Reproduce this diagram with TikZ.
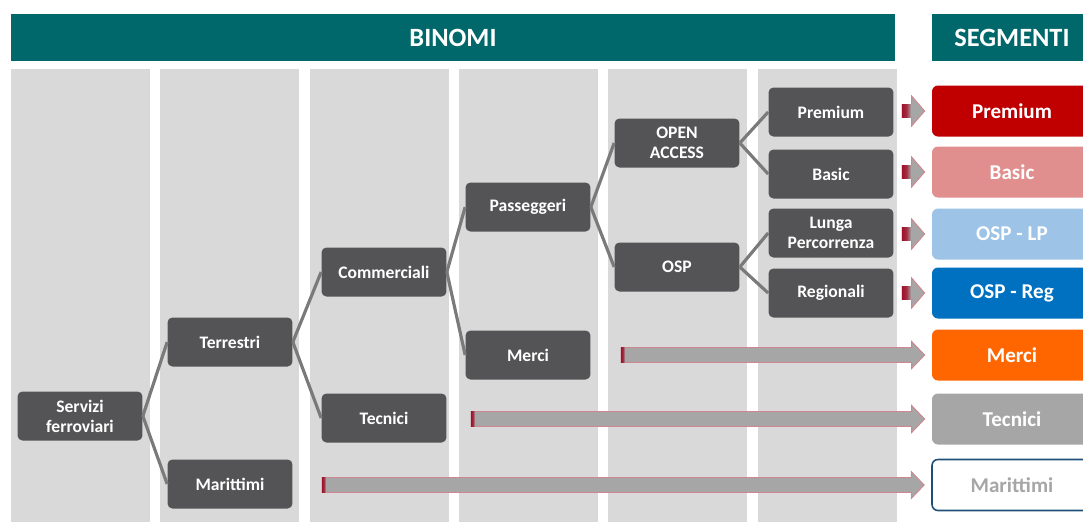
\documentclass[tikz,border=0pt]{standalone}
\usepackage{fontspec}
\setmainfont{Carlito}
\usetikzlibrary{calc}
\definecolor{teal}{HTML}{00686A}
\definecolor{colgray}{HTML}{D9D9D9}
\definecolor{boxgray}{HTML}{545456}
\definecolor{linkgray}{HTML}{7A7A7A}
\definecolor{arrowfill}{HTML}{A6A6A6}
\definecolor{arrowedge}{HTML}{D0868E}
\definecolor{arrowstub}{HTML}{A0102A}
\definecolor{segpremium}{HTML}{C00000}
\definecolor{segbasic}{HTML}{E08E8E}
\definecolor{seglp}{HTML}{9DC3E6}
\definecolor{segreg}{HTML}{0070C0}
\definecolor{segmerci}{HTML}{FF6600}
\definecolor{segtecnici}{HTML}{A6A6A6}
\definecolor{segborder}{HTML}{1F4E79}
\tikzset{
	binomio/.style={
			fill=boxgray, rounded corners=2.8pt, text=white, align=center,
			minimum width=2.5cm, minimum height=0.98cm, inner sep=1pt,
			font=\bfseries\fontsize{10}{11.5}\selectfont
		},
	segmento/.style={
			fill=#1, rounded corners=3.4pt, text=white,
			minimum width=3.2cm, minimum height=1.02cm,
			font=\bfseries\fontsize{12}{14}\selectfont
		},
	link/.style={draw=linkgray, line width=1.8pt},
	header/.style={text=white, font=\bfseries\fontsize{15}{18}\selectfont}
}
\newcommand{\blockarrow}[5][4]{% [stub width] start, tip, half shaft, half head
	\filldraw[fill=arrowfill, draw=arrowedge, line width=0.5pt]
	($(#2)+(0,#4)$) -- ($(#3)+(-13,#4)$) -- ($(#3)+(-13,#5)$) -- (#3)
	-- ($(#3)+(-13,-#5)$) -- ($(#3)+(-13,-#4)$) -- ($(#2)+(0,-#4)$) -- cycle;
	\shade[left color=arrowstub, right color=arrowfill, middle color=arrowstub!80!arrowfill]
	($(#2)+(0,#4)$) rectangle ($(#2)+(#1,-#4)$);
}

\begin{document}
\begin{tikzpicture}[x=0.02cm, y=-0.02cm]
        \useasboundingbox (0,0) rectangle (1083,522);
        % headers
        \fill[teal] (11,14) rectangle (895,61);
        \node[header] (binomi) at (453,38) {BINOMI};
        \fill[teal] (932,14) rectangle (1090,61);
        \node[header] (segmenti) at (1012,38) {SEGMENTI};
        % columns
        \foreach \i in {0,...,5}
            \fill[colgray] ({11+149.3*\i},69) rectangle ({150+149.3*\i},522);
        % binomi
        \node[binomio] (serv) at (80,416) {Servizi\\ferroviari};
        \node[binomio] (terr) at (230,342) {Terrestri};
        \node[binomio] (mari) at (230,484) {Marittimi};
        \node[binomio] (comm) at (384,272) {Commerciali};
        \node[binomio] (tecn) at (384,418) {Tecnici};
        \node[binomio] (pass) at (528,207) {Passeggeri};
        \node[binomio] (merc) at (528,355) {Merci};
        \node[binomio] (open) at (677,143) {OPEN\\ACCESS};
        \node[binomio] (osp) at (677,267) {OSP};
        \node[binomio] (prem) at (831,112) {Premium};
        \node[binomio] (basi) at (831,174) {Basic};
        \node[binomio, font=\bfseries\fontsize{10}{11}\selectfont] (lung) at (831,233) {Lunga\\Percorrenza};
        \node[binomio] (regi) at (831,293) {Regionali};
        \draw[link] (serv.east) -- (terr.west);
        \draw[link] (serv.east) -- (mari.west);
        \draw[link] (terr.east) -- (comm.west);
        \draw[link] (terr.east) -- (tecn.west);
        \draw[link] (comm.east) -- (pass.west);
        \draw[link] (comm.east) -- (merc.west);
        \draw[link] (pass.east) -- (open.west);
        \draw[link] (pass.east) -- (osp.west);
        \draw[link] (open.east) -- (prem.west);
        \draw[link] (open.east) -- (basi.west);
        \draw[link] (osp.east) -- (lung.west);
        \draw[link] (osp.east) -- (regi.west);
        % segmenti
        \node[segmento=segpremium] (s_prem) at (1012,111) {Premium};
        \node[segmento=segbasic] (s_basi) at (1012,172) {Basic};
        \node[segmento=seglp] (s_lp) at (1012,234) {OSP - LP};
        \node[segmento=segreg] (s_reg) at (1012,293) {OSP - Reg};
        \node[segmento=segmerci] (s_merc) at (1012,355) {Merci};
        \node[segmento=segtecnici] (s_tecn) at (1012,419) {Tecnici};
        \node[segmento=white, draw=segborder, line width=0.9pt, text=segtecnici] (s_mari) at (1012,485) {Marittimi};
        % frecce
        \foreach \s/\y in {s_prem/111, s_basi/172, s_lp/234, s_reg/293} {
            \coordinate (\s_from) at (902,\y);
            \coordinate (\s_tip) at ($(\s.west)+(-7,0)$);
            \blockarrow[9]{\s_from}{\s_tip}{6.5}{15}
        }
        \coordinate (merc_from) at (621,355);
        \coordinate (merc_tip) at ($(s_merc.west)+(-7,0)$);
        \blockarrow{merc_from}{merc_tip}{7.5}{13.5}
        \coordinate (tecn_from) at (471,419);
        \coordinate (tecn_tip) at ($(s_tecn.west)+(-7,0)$);
        \blockarrow{tecn_from}{tecn_tip}{7.5}{13.5}
        \coordinate (mari_from) at (322,485);
        \coordinate (mari_tip) at ($(s_mari.west)+(-7,0)$);
        \blockarrow{mari_from}{mari_tip}{7.5}{13.5}
    \end{tikzpicture}
\end{document}
